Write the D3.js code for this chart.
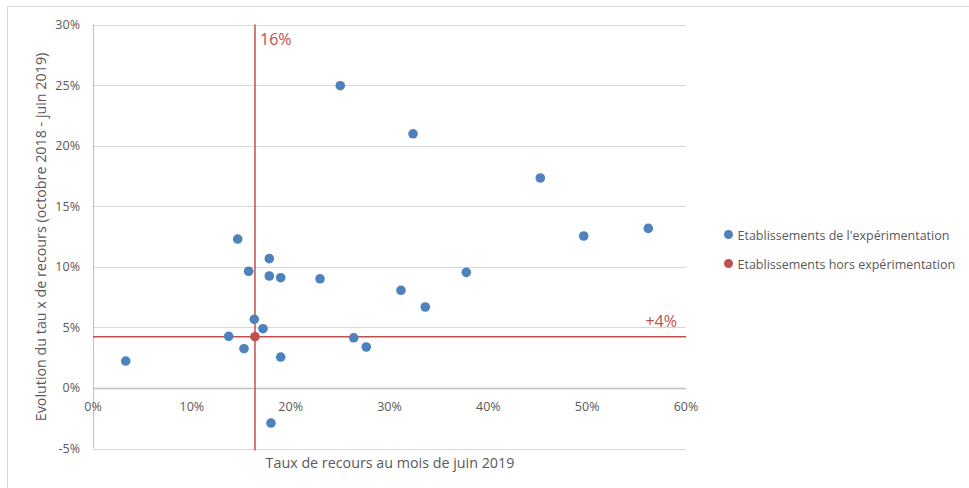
<!DOCTYPE html>
<html>
<head>
<meta charset="utf-8">
<script src="https://cdn.jsdelivr.net/npm/d3@7"></script>
<style>
  body { margin: 0; background: #fff; }
  svg { display: block; font-family: "Open Sans", "Noto Sans", sans-serif; }
</style>
</head>
<body>
<div id="chart"></div>
<script>
// taux de recours (x, %) et evolution (y, %)
const expeX = [3.31, 13.73, 14.64, 15.28, 15.75, 16.32, 17.2, 17.84, 17.84, 18.99, 18.99, 18.01,
  22.97, 25.02, 26.38, 27.65, 31.16, 33.62, 37.77, 32.38, 45.26, 49.65, 56.19];
const expeY = [2.22, 4.26, 12.29, 3.24, 9.63, 5.66, 4.89, 10.67, 9.24, 9.1, 2.55, -2.9,
  9.01, 24.95, 4.14, 3.38, 8.06, 6.68, 9.54, 20.98, 17.33, 12.54, 13.17];
const horsX = [16.39];
const horsY = [4.23];

const xTicks = [0, 10, 20, 30, 40, 50, 60];
const yTicks = [-5, 0, 5, 10, 15, 20, 25, 30];
const refX = 16.39, refY = 4.23;
const refXLabel = "16%", refYLabel = "+4%";
const legendLabels = ["Etablissements de l'expérimentation", "Etablissements hors expérimentation"];

const blue = "#4F81BD", red = "#C0504D", grey = "#595959";

const width = 969, height = 488;
const svg = d3.select("#chart").append("svg")
  .attr("width", width)
  .attr("height", height);

// cadre du graphique
svg.append("rect")
  .attr("x", 7.5).attr("y", 6.5)
  .attr("width", 1000).attr("height", 600)
  .attr("fill", "none")
  .attr("stroke", "#D9D9D9");

const x = d3.scaleLinear().domain([0, 60]).range([93, 686]);
const y = d3.scaleLinear().domain([-5, 30]).range([448.5, 24.5]);

// quadrillage horizontal
svg.append("g")
  .selectAll("line")
  .data(yTicks)
  .join("line")
  .attr("x1", x(0)).attr("x2", x(60))
  .attr("y1", d => Math.round(y(d)) + 0.5)
  .attr("y2", d => Math.round(y(d)) + 0.5)
  .attr("stroke", d => d === 0 ? "#BFBFBF" : "#D9D9D9")
  .attr("stroke-width", d => d === 0 ? 1.3 : 1);

// axe vertical
svg.append("line")
  .attr("x1", x(0) + 0.5).attr("x2", x(0) + 0.5)
  .attr("y1", y(30)).attr("y2", y(-5))
  .attr("stroke", "#BFBFBF");

// etiquettes axe y
svg.append("g")
  .selectAll("text")
  .data(yTicks)
  .join("text")
  .attr("x", 80)
  .attr("y", d => y(d) + 4.5)
  .attr("text-anchor", "end")
  .attr("font-size", 12.5)
  .attr("fill", grey)
  .text(d => d + "%");

// etiquettes axe x (sous la ligne 0%)
svg.append("g")
  .selectAll("text")
  .data(xTicks)
  .join("text")
  .attr("x", d => x(d))
  .attr("y", y(0) + 23)
  .attr("text-anchor", "middle")
  .attr("font-size", 12.5)
  .attr("fill", grey)
  .text(d => d + "%");

// lignes de reference
svg.append("line")
  .attr("x1", x(refX)).attr("x2", x(refX))
  .attr("y1", y(30)).attr("y2", y(-5) + 2)
  .attr("stroke", red).attr("stroke-width", 1.5);
svg.append("line")
  .attr("x1", x(0)).attr("x2", x(60))
  .attr("y1", y(refY)).attr("y2", y(refY))
  .attr("stroke", red).attr("stroke-width", 1.5);

svg.append("text")
  .attr("x", x(refX) + 5).attr("y", 45)
  .attr("font-size", 16).attr("fill", red)
  .text(refXLabel);
svg.append("text")
  .attr("x", x(60) - 9).attr("y", y(refY) - 10)
  .attr("text-anchor", "end")
  .attr("font-size", 16).attr("fill", red)
  .text(refYLabel);

// points
svg.append("g")
  .selectAll("circle")
  .data(expeX.map((d, i) => [d, expeY[i]]))
  .join("circle")
  .attr("cx", d => x(d[0]))
  .attr("cy", d => y(d[1]))
  .attr("r", 4.8)
  .attr("fill", blue);

svg.append("g")
  .selectAll("circle")
  .data(horsX.map((d, i) => [d, horsY[i]]))
  .join("circle")
  .attr("cx", d => x(d[0]))
  .attr("cy", d => y(d[1]))
  .attr("r", 4.8)
  .attr("fill", red);

// titres des axes
svg.append("text")
  .attr("x", 390).attr("y", 468)
  .attr("text-anchor", "middle")
  .attr("font-size", 14.3).attr("fill", grey)
  .text("Taux de recours au mois de juin 2019");

svg.append("text")
  .attr("transform", "translate(45.5,237) rotate(-90)")
  .attr("text-anchor", "middle")
  .attr("font-size", 14.3).attr("fill", grey)
  .text("Evolution du tau x de recours (octobre 2018 - juin 2019)");

// legende
const legend = svg.append("g")
  .selectAll("g")
  .data(legendLabels)
  .join("g")
  .attr("transform", (d, i) => `translate(728.5, ${234.5 + i * 29})`);
legend.append("circle")
  .attr("r", 4.5)
  .attr("fill", (d, i) => i === 0 ? blue : red);
legend.append("text")
  .attr("x", 9).attr("y", 5)
  .attr("font-size", 12.5).attr("fill", grey)
  .text(d => d);
</script>
</body>
</html>
